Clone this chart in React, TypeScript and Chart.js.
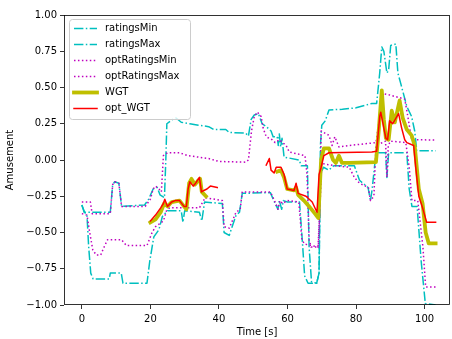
import React, { useEffect, useRef } from "react";
import { Chart, registerables } from "chart.js";

Chart.register(...registerables);

// ---------- data (time in s, amusement value) ----------
const xTickValues = [0, 20, 40, 60, 80, 100];
const yTickValues = [-1, -0.75, -0.5, -0.25, 0, 0.25, 0.5, 0.75, 1];

const ratingsMinT = [0, 0.8, 1.5, 2.0, 2.6, 3.3, 8.0, 8.3, 11.5, 12.0, 19.0, 19.8, 21.0, 22.5, 23.5, 25.0, 29.0, 29.5, 30.0, 34.3, 35.0, 35.8, 41.0, 41.5, 43.0, 45.0, 46.0, 46.8, 55.0, 56.0, 57.2, 57.6, 58.3, 58.8, 60.0, 63.5, 64.3, 65.0, 66.0, 68.5, 69.2, 69.6, 70.5, 72.0, 73.5, 79.5, 81.0, 83.5, 84.2, 84.7, 85.5, 86.5, 88.6, 89.0, 89.5, 94.8, 95.5, 96.3, 97.8, 99.0, 100.2, 103.2];
const ratingsMinV = [-0.31, -0.36, -0.38, -0.6, -0.78, -0.82, -0.82, -0.78, -0.78, -0.85, -0.85, -0.7, -0.53, -0.48, -0.39, -0.35, -0.35, -0.43, -0.35, -0.36, -0.42, -0.29, -0.3, -0.5, -0.52, -0.38, -0.36, -0.23, -0.225, -0.28, -0.34, -0.28, -0.34, -0.28, -0.29, -0.29, -0.55, -0.8, -0.85, -0.85, -0.78, -0.1, -0.05, -0.07, -0.04, -0.04, -0.14, -0.19, -0.28, -0.2, -0.02, 0.05, 0.05, -0.12, 0.05, 0.05, -0.2, -0.32, -0.32, -0.7, -0.99, -1.0];

const ratingsMaxT = [0, 0.7, 8.3, 9.0, 9.6, 10.8, 11.6, 18.3, 19.5, 20.8, 22.0, 22.8, 24.1, 24.5, 24.8, 26.5, 27.5, 29.0, 31.5, 34.0, 37.0, 38.5, 42.0, 43.0, 47.8, 48.6, 49.4, 50.3, 51.5, 52.6, 53.8, 55.2, 55.8, 57.0, 57.3, 57.6, 58.0, 58.4, 59.0, 63.4, 64.0, 65.8, 66.3, 67.0, 68.5, 69.2, 69.6, 70.0, 71.0, 72.1, 76.0, 80.0, 84.6, 86.0, 86.9, 87.5, 88.1, 89.0, 89.5, 90.1, 91.6, 92.2, 93.0, 94.8, 96.2, 97.1, 97.7, 103.2];
const ratingsMaxV = [-0.31, -0.36, -0.36, -0.17, -0.15, -0.16, -0.32, -0.31, -0.27, -0.2, -0.19, -0.24, -0.26, 0.0, 0.25, 0.28, 0.29, 0.26, 0.25, 0.24, 0.23, 0.21, 0.21, 0.19, 0.185, 0.165, 0.28, 0.31, 0.32, 0.25, 0.23, 0.2, 0.16, 0.16, 0.1, 0.18, 0.09, 0.15, 0.02, 0.0, -0.04, -0.04, -0.6, -0.84, -0.85, -0.78, 0.1, 0.24, 0.27, 0.345, 0.35, 0.36, 0.39, 0.39, 0.6, 0.78, 0.75, 0.6, 0.62, 0.79, 0.8, 0.6, 0.53, 0.37, 0.3, 0.2, 0.064, 0.064];

const optRatingsMinT = [0, 1.5, 2.3, 3.2, 4.2, 5.5, 6.5, 7.5, 11.6, 13.0, 19.0, 20.5, 21.5, 23.8, 24.7, 25.6, 34.3, 36.0, 41.0, 41.5, 43.0, 45.0, 46.2, 46.8, 55.0, 56.2, 57.2, 57.8, 58.5, 60.0, 63.3, 64.2, 65.0, 69.0, 69.5, 70.0, 71.0, 78.0, 79.5, 81.0, 83.6, 84.2, 85.2, 85.8, 88.6, 89.0, 89.4, 90.0, 94.5, 95.5, 96.3, 98.0, 99.5, 100.3, 103.2];
const optRatingsMinV = [-0.37, -0.38, -0.5, -0.62, -0.655, -0.655, -0.6, -0.55, -0.55, -0.59, -0.59, -0.5, -0.46, -0.42, -0.35, -0.33, -0.33, -0.26, -0.28, -0.46, -0.47, -0.36, -0.34, -0.22, -0.22, -0.28, -0.34, -0.28, -0.3, -0.28, -0.29, -0.55, -0.58, -0.6, -0.3, -0.02, -0.03, -0.05, -0.12, -0.16, -0.19, -0.28, -0.25, 0.1, 0.13, -0.12, 0.1, 0.13, 0.12, -0.05, -0.28, -0.28, -0.6, -0.875, -0.875];

const optRatingsMaxT = [0, 2.5, 3.0, 8.3, 9.0, 9.6, 10.8, 11.6, 18.5, 20.0, 20.8, 21.5, 22.5, 23.2, 23.8, 25.0, 28.5, 31.0, 34.0, 37.0, 40.0, 47.8, 48.6, 49.5, 50.3, 51.2, 52.3, 52.9, 53.8, 55.5, 56.4, 57.6, 59.6, 60.5, 65.1, 65.7, 66.3, 66.9, 68.9, 69.5, 69.8, 72.1, 73.0, 73.8, 75.0, 77.9, 85.8, 86.9, 87.5, 89.5, 94.2, 95.1, 96.2, 103.2];
const optRatingsMaxV = [-0.29, -0.29, -0.37, -0.37, -0.17, -0.15, -0.16, -0.32, -0.32, -0.27, -0.2, -0.18, -0.2, -0.22, 0.03, 0.05, 0.05, 0.03, 0.02, 0.01, -0.01, -0.015, 0.0, 0.2, 0.3, 0.33, 0.3, 0.22, 0.16, 0.14, 0.12, 0.14, 0.1, 0.055, 0.03, -0.1, -0.55, -0.6, -0.6, -0.3, 0.2, 0.17, 0.1, 0.16, 0.09, 0.1, 0.12, 0.3, 0.46, 0.45, 0.42, 0.3, 0.14, 0.138];

const wgtT1 = [20, 21.5, 23, 24, 25, 26.2, 28.5, 29.8, 30.5, 31.3, 32, 33, 34, 34.5, 35, 36.2];
const wgtV1 = [-0.43, -0.41, -0.36, -0.3, -0.32, -0.29, -0.28, -0.32, -0.34, -0.16, -0.13, -0.17, -0.14, -0.13, -0.22, -0.25];
const wgtT2 = [57.0, 58.1, 59.0, 59.9, 61.9, 62.5, 63.1, 64.8, 66.3, 68.0, 69.0, 69.2, 69.8, 70.6, 72.1, 73.3, 74.1, 75.0, 75.9, 77.9, 85.8, 86.6, 87.5, 88.1, 88.7, 89.5, 90.4, 91.3, 92.7, 93.6, 94.8, 96.2, 97.1, 98.3, 99.4, 100.3, 101.2, 103.2];
const wgtV2 = [-0.08, -0.07, -0.12, -0.2, -0.21, -0.19, -0.24, -0.28, -0.32, -0.37, -0.4, -0.3, 0.0, 0.08, 0.08, 0.0, -0.02, 0.03, -0.02, -0.02, -0.015, 0.2, 0.48, 0.28, 0.15, 0.14, 0.34, 0.26, 0.41, 0.29, 0.21, 0.17, 0.1, -0.2, -0.3, -0.5, -0.575, -0.575];

const optWgtT1 = [20, 21.5, 23, 23.8, 24.2, 25, 26.2, 27.2, 28.5, 29.8, 30.5, 31, 31.5, 32.5, 33.2, 34.3, 34.9, 35.6, 36.5, 37.5, 39.5];
const optWgtV1 = [-0.42, -0.38, -0.33, -0.3, -0.27, -0.32, -0.29, -0.28, -0.28, -0.32, -0.32, -0.2, -0.15, -0.18, -0.16, -0.12, -0.22, -0.21, -0.2, -0.18, -0.19];
const optWgtT2 = [53.8, 54.7, 55.2, 56.1, 56.7, 58.1, 59.0, 59.9, 61.9, 62.5, 63.1, 65.4, 67.2, 68.6, 69.2, 69.8, 70.6, 72.1, 84.6, 86.0, 86.9, 87.2, 88.1, 88.7, 89.2, 89.8, 90.7, 91.9, 92.4, 93.3, 94.2, 94.8, 96.8, 97.4, 98.3, 99.4, 100.6, 103.2];
const optWgtV2 = [-0.035, 0.01, -0.07, -0.09, -0.05, -0.05, -0.1, -0.2, -0.21, -0.16, -0.23, -0.25, -0.29, -0.36, -0.1, -0.05, 0.03, 0.05, 0.055, 0.06, 0.3, 0.33, 0.22, 0.15, 0.14, 0.27, 0.25, 0.3, 0.32, 0.22, 0.14, 0.12, 0.1, -0.05, -0.25, -0.33, -0.43, -0.43];

const seriesLabels = ["ratingsMin", "ratingsMax", "optRatingsMin", "optRatingsMax", "WGT", "opt_WGT"];

// ---------- helpers ----------
const zip = (t: number[], v: number[]) => t.map((x, i) => ({ x, y: v[i] as number | null }));
const joinSegments = (a: { x: number; y: number | null }[], b: { x: number; y: number | null }[]) => [
  ...a,
  { x: (a[a.length - 1].x + b[0].x) / 2, y: null },
  ...b,
];

const FONT = "'DejaVu Sans', 'Liberation Sans', sans-serif";
const CYAN = "#00bfbf";
const MAGENTA = "#bf00bf";
const YELLOW = "#bfbf00";
const RED = "#ff0000";
const DASHDOT = [9.4, 2.4, 1.5, 2.4];
const DOTTED = [1.5, 2.45];

type Style = { color: string; width: number; dash: number[]; cap: CanvasLineCap };
const styles: Style[] = [
  { color: CYAN, width: 1.5, dash: DASHDOT, cap: "butt" },
  { color: CYAN, width: 1.5, dash: DASHDOT, cap: "butt" },
  { color: MAGENTA, width: 1.5, dash: DOTTED, cap: "butt" },
  { color: MAGENTA, width: 1.5, dash: DOTTED, cap: "butt" },
  { color: YELLOW, width: 3.8, dash: [], cap: "square" },
  { color: RED, width: 1.5, dash: [], cap: "square" },
];

const decorPlugin = {
  id: "decor",
  afterDraw(chart: any) {
    const { ctx, chartArea } = chart;
    const { left, right, top, bottom } = chartArea;
    ctx.save();
    // frame
    ctx.strokeStyle = "#000";
    ctx.lineWidth = 0.8;
    ctx.setLineDash([]);
    ctx.strokeRect(Math.round(left) + 0.5, Math.round(top) + 0.5, Math.round(right - left) - 1, Math.round(bottom - top) - 1);

    // axis titles
    ctx.fillStyle = "#000";
    ctx.font = `10px ${FONT}`;
    ctx.textAlign = "center";
    ctx.textBaseline = "middle";
    ctx.fillText("Time [s]", (left + right) / 2, 332);
    ctx.save();
    ctx.translate(10, (top + bottom) / 2);
    ctx.rotate(-Math.PI / 2);
    ctx.fillText("Amusement", 0, 0);
    ctx.restore();

    // legend
    const bx = 69.5, by = 19.5, bw = 121, bh = 100, r = 3;
    ctx.beginPath();
    ctx.moveTo(bx + r, by);
    ctx.lineTo(bx + bw - r, by);
    ctx.quadraticCurveTo(bx + bw, by, bx + bw, by + r);
    ctx.lineTo(bx + bw, by + bh - r);
    ctx.quadraticCurveTo(bx + bw, by + bh, bx + bw - r, by + bh);
    ctx.lineTo(bx + r, by + bh);
    ctx.quadraticCurveTo(bx, by + bh, bx, by + bh - r);
    ctx.lineTo(bx, by + r);
    ctx.quadraticCurveTo(bx, by, bx + r, by);
    ctx.closePath();
    ctx.fillStyle = "rgba(255,255,255,0.8)";
    ctx.fill();
    ctx.strokeStyle = "#cccccc";
    ctx.lineWidth = 1;
    ctx.stroke();

    seriesLabels.forEach((label, i) => {
      const y = 28.5 + i * 16;
      const s = styles[i];
      ctx.beginPath();
      ctx.strokeStyle = s.color;
      ctx.lineWidth = s.width;
      ctx.setLineDash(s.dash);
      ctx.lineCap = s.cap;
      ctx.moveTo(74, y);
      ctx.lineTo(97, y);
      ctx.stroke();
      ctx.setLineDash([]);
      ctx.fillStyle = "#000";
      ctx.textAlign = "left";
      ctx.textBaseline = "middle";
      ctx.fillText(label, 105, y);
    });
    ctx.restore();
  },
};

export default function App() {
  const canvasRef = useRef<HTMLCanvasElement | null>(null);

  useEffect(() => {
    document.body.style.margin = "0";
    const canvas = canvasRef.current;
    if (!canvas) return;

    const seriesData = [
      zip(ratingsMinT, ratingsMinV),
      zip(ratingsMaxT, ratingsMaxV),
      zip(optRatingsMinT, optRatingsMinV),
      zip(optRatingsMaxT, optRatingsMaxV),
      joinSegments(zip(wgtT1, wgtV1), zip(wgtT2, wgtV2)),
      joinSegments(zip(optWgtT1, optWgtV1), zip(optWgtT2, optWgtV2)),
    ];

    const datasets = seriesLabels.map((label, i) => ({
      label,
      data: seriesData[i],
      borderColor: styles[i].color,
      backgroundColor: styles[i].color,
      borderWidth: styles[i].width,
      borderDash: styles[i].dash,
      borderCapStyle: styles[i].cap,
      borderJoinStyle: "round" as const,
      pointRadius: 0,
      pointHoverRadius: 0,
      tension: 0,
      fill: false,
      spanGaps: false,
      clip: 0,
      order: seriesLabels.length - i,
    }));

    const tickFont = { family: FONT, size: 10 };

    const chart = new Chart(canvas, {
      type: "line",
      data: { datasets },
      options: {
        animation: false,
        responsive: false,
        events: [],
        layout: { padding: { top: 15, right: 2, left: 0, bottom: 0 } },
        plugins: { legend: { display: false }, tooltip: { enabled: false } },
        scales: {
          x: {
            type: "linear",
            min: -5.2,
            max: 107.4,
            afterBuildTicks: (s: any) => {
              s.ticks = xTickValues.map((value) => ({ value }));
            },
            afterFit: (s: any) => {
              s.height = 34;
            },
            grid: { drawOnChartArea: false, drawTicks: true, tickLength: 4, color: "#000", lineWidth: 0.8 },
            border: { display: false },
            ticks: {
              color: "#000",
              font: tickFont,
              padding: 4,
              maxRotation: 0,
              autoSkip: false,
              callback: (v: any) => String(v),
            },
          },
          y: {
            type: "linear",
            min: -1,
            max: 1,
            afterBuildTicks: (s: any) => {
              s.ticks = yTickValues.map((value) => ({ value }));
            },
            afterFit: (s: any) => {
              s.width = 64;
            },
            grid: { drawOnChartArea: false, drawTicks: true, tickLength: 4, color: "#000", lineWidth: 0.8 },
            border: { display: false },
            ticks: {
              color: "#000",
              font: tickFont,
              padding: 3,
              autoSkip: false,
              callback: (v: any) => Number(v).toFixed(2).replace("-", "\u2212"),
            },
          },
        },
      },
      plugins: [decorPlugin],
    } as any);

    return () => chart.destroy();
  }, []);

  return (
    <div style={{ width: 452, height: 339, background: "#fff" }}>
      <canvas ref={canvasRef} width={452} height={339} style={{ display: "block" }} />
    </div>
  );
}
